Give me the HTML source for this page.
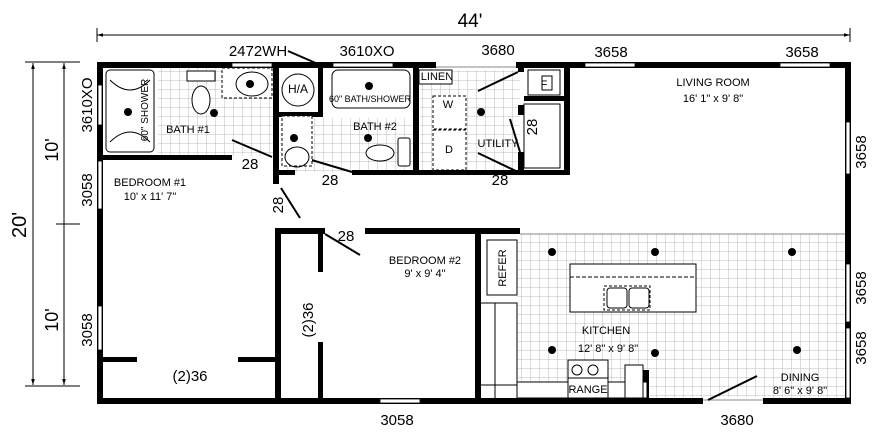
<!DOCTYPE html>
<html><head><style>
html,body{margin:0;padding:0;background:#fff;}
svg{display:block;font-family:"Liberation Sans Narrow","Liberation Sans",sans-serif;}
</style></head><body>
<svg width="880" height="436" viewBox="0 0 880 436" xmlns="http://www.w3.org/2000/svg">
<defs>
<pattern id="tile" width="9" height="9" patternUnits="userSpaceOnUse">
<path d="M9 0V9M0 9H9" stroke="#aaa" stroke-width="0.8" fill="none"/>
</pattern>
<marker id="ar" viewBox="0 0 10 10" refX="10" refY="5" markerWidth="6" markerHeight="6" orient="auto-start-reverse"><path d="M0 2L10 5L0 8z" fill="#000"/></marker>
</defs>
<rect x="158" y="68" width="117" height="88" fill="url(#tile)"/>
<rect x="280" y="118" width="135" height="54" fill="url(#tile)"/>
<rect x="420" y="68" width="100" height="104" fill="url(#tile)"/>
<rect x="517" y="234" width="329" height="164" fill="url(#tile)"/>
<line x1="520" y1="234" x2="845" y2="234" stroke="#888"/>
<!-- dimensions -->
<line x1="97" y1="35" x2="850" y2="35" stroke="#000" marker-start="url(#ar)" marker-end="url(#ar)"/>
<line x1="97" y1="28" x2="97" y2="42" stroke="#000"/><line x1="850" y1="28" x2="850" y2="42" stroke="#000"/>
<text x="470" y="27" font-size="19" text-anchor="middle">44'</text>
<line x1="33" y1="63" x2="33" y2="385" stroke="#000" marker-start="url(#ar)" marker-end="url(#ar)"/>
<line x1="64" y1="63" x2="64" y2="385" stroke="#000" marker-start="url(#ar)" marker-end="url(#ar)"/>
<line x1="25" y1="62" x2="80" y2="62" stroke="#000"/><line x1="25" y1="386" x2="80" y2="386" stroke="#000"/><line x1="56" y1="224" x2="80" y2="224" stroke="#000"/>
<text transform="translate(26,225) rotate(-90)" font-size="20" text-anchor="middle">20'</text>
<text transform="translate(58,150) rotate(-90)" font-size="18" text-anchor="middle">10'</text>
<text transform="translate(58,320) rotate(-90)" font-size="18" text-anchor="middle">10'</text>
<g font-size="15">
<text transform="translate(92,105) rotate(-90)" text-anchor="middle">3610XO</text>
<text transform="translate(92,190) rotate(-90)" text-anchor="middle">3058</text>
<text transform="translate(92,330) rotate(-90)" text-anchor="middle">3058</text>
<text transform="translate(866,152) rotate(-90)" text-anchor="middle">3658</text>
<text transform="translate(866,288) rotate(-90)" text-anchor="middle">3658</text>
<text transform="translate(866,348) rotate(-90)" text-anchor="middle">3658</text>
<text x="258" y="56" text-anchor="middle">2472WH</text>
<text x="367" y="56" text-anchor="middle">3610XO</text>
<text x="498" y="55" text-anchor="middle">3680</text>
<text x="611" y="57" text-anchor="middle">3658</text>
<text x="802" y="57" text-anchor="middle">3658</text>
<text x="397" y="425" text-anchor="middle">3058</text>
<text x="737" y="425" text-anchor="middle">3680</text>
<text x="250" y="169" text-anchor="middle">28</text>
<text x="330" y="185" text-anchor="middle">28</text>
<text x="500" y="185" text-anchor="middle">28</text>
<text x="346" y="241" text-anchor="middle">28</text>
<text transform="translate(283,205) rotate(-90)" text-anchor="middle">28</text>
<text transform="translate(537,127) rotate(-90)" text-anchor="middle">28</text>
<text x="190" y="381" text-anchor="middle">(2)36</text>
<text transform="translate(313,320) rotate(-90)" text-anchor="middle">(2)36</text>
</g>
<!-- walls -->
<g fill="#000">
<rect x="97" y="62" width="754" height="6"/>
<rect x="97" y="62" width="6" height="342"/>
<rect x="845" y="62" width="6" height="342"/>
<rect x="97" y="398" width="754" height="6"/>
<rect x="97" y="155" width="135" height="5"/>
<rect x="273" y="62" width="6" height="122"/>
<rect x="275" y="228" width="6" height="176"/>
<rect x="275" y="228" width="50" height="6"/>
<rect x="365" y="228" width="155" height="6"/>
<rect x="318" y="234" width="5" height="38"/>
<rect x="318" y="342" width="5" height="58"/>
<rect x="475" y="228" width="6" height="172"/>
<rect x="97" y="357" width="40" height="5"/>
<rect x="238" y="357" width="40" height="5"/>
<rect x="275" y="170" width="20" height="5"/>
<rect x="352" y="170" width="168" height="5"/>
<rect x="279" y="112" width="42" height="5"/>
<rect x="318" y="62" width="5" height="55"/>
<rect x="413" y="62" width="6" height="112"/>
<rect x="518" y="62" width="6" height="10"/>
<rect x="518" y="105" width="6" height="10"/>
<rect x="518" y="152" width="6" height="23"/>
<rect x="518" y="170" width="50" height="5"/>
<rect x="564" y="62" width="6" height="113"/>
<rect x="524" y="96" width="40" height="5"/>
<rect x="643" y="370" width="6" height="30"/>
</g>
<g fill="#fff" stroke="#000" stroke-width="0.8">
<rect x="98" y="85" width="4" height="40"/>
<rect x="98" y="161" width="4" height="48"/>
<rect x="98" y="306" width="4" height="44"/>
<rect x="846" y="122" width="4" height="52"/>
<rect x="846" y="264" width="4" height="58"/>
<rect x="846" y="328" width="4" height="70"/>
<rect x="585" y="63" width="50" height="4"/>
<rect x="780" y="63" width="50" height="4"/>
<rect x="333" y="63" width="60" height="4"/>
<rect x="380" y="399" width="40" height="4"/>
<rect x="232" y="63" width="40" height="4"/>
</g>
<rect x="436" y="60" width="80" height="10" fill="#fff"/><line x1="436" y1="67" x2="516" y2="67" stroke="#888"/>
<rect x="703" y="397" width="60" height="8" fill="#fff"/><line x1="703" y1="400" x2="763" y2="400" stroke="#888"/>
<g stroke="#000" stroke-width="2" fill="none">
<line x1="232" y1="140" x2="272" y2="157"/>
<line x1="288" y1="153" x2="352" y2="172"/>
<line x1="478" y1="153" x2="518" y2="172"/>
<line x1="478" y1="91" x2="518" y2="72"/>
<line x1="510" y1="119" x2="520" y2="152"/>
<line x1="281" y1="188" x2="300" y2="218"/>
<line x1="325" y1="234" x2="360" y2="255"/>
<line x1="708" y1="400" x2="757" y2="376"/>
<line x1="288" y1="51" x2="318" y2="64"/>
</g>
<g fill="none" stroke="#000" stroke-width="1">
<rect x="106" y="70" width="48" height="82" rx="4" fill="#fff"/>
<path d="M110 80 Q130 100 150 80 M110 142 Q130 122 150 142"/>
<rect x="187" y="71" width="28" height="10" fill="#fff"/>
<ellipse cx="201" cy="100" rx="9" ry="14" fill="#fff"/>
<rect x="222" y="68" width="50" height="30" stroke-dasharray="3 2" fill="#fff"/>
<ellipse cx="252" cy="84" rx="16" ry="12"/>
<circle cx="298" cy="90" r="16"/>
<rect x="332" y="70" width="78" height="38" rx="6" fill="#fff"/>
<rect x="282" y="116" width="30" height="50" stroke-dasharray="3 2" fill="#fff"/>
<ellipse cx="297" cy="157" rx="12" ry="10"/>
<ellipse cx="380" cy="153" rx="14" ry="8" fill="#fff"/>
<rect x="398" y="138" width="12" height="28" rx="2" fill="#fff"/>
<rect x="433" y="96" width="33" height="33" stroke-dasharray="3 2" fill="#fff"/>
<rect x="433" y="130" width="33" height="40" stroke-dasharray="3 2" fill="#fff"/>
<rect x="419" y="70" width="33" height="14" fill="#fff"/>
<rect x="528" y="70" width="32" height="25"/>
<rect x="542" y="76" width="10" height="14"/>
<rect x="524" y="104" width="36" height="64"/>
<rect x="487" y="240" width="30" height="55" fill="#fff"/>
<rect x="570" y="264" width="126" height="48" fill="#fff"/>
<line x1="570" y1="277" x2="696" y2="277" stroke-dasharray="4 2"/>
<rect x="604" y="286" width="46" height="24" stroke-dasharray="3 2"/>
<rect x="607" y="288" width="20" height="20" rx="3"/><rect x="629" y="288" width="20" height="20" rx="3"/>
<path d="M481 303 H517 V385 H481 M517 385 V398 M495 303 V398"/>
<rect x="517" y="382" width="130" height="16" fill="#fff"/>
<rect x="568" y="360" width="40" height="38" fill="#fff"/>
<line x1="568" y1="378" x2="608" y2="378"/>
<circle cx="577" cy="370" r="5"/><circle cx="593" cy="370" r="5"/>
<rect x="625" y="365" width="18" height="33" fill="#fff"/>
</g>
<g fill="#000">
<circle cx="128" cy="112" r="4"/><circle cx="214" cy="113" r="4"/><circle cx="250" cy="84" r="4"/>
<circle cx="369" cy="86" r="4"/><circle cx="294" cy="138" r="4"/><circle cx="368" cy="138" r="4"/>
<circle cx="481" cy="112" r="4"/>
<circle cx="552" cy="252" r="4"/><circle cx="655" cy="252" r="4"/><circle cx="792" cy="252" r="4"/>
<circle cx="552" cy="350" r="4"/><circle cx="655" cy="353" r="4"/><circle cx="797" cy="350" r="4"/>
</g>
<g font-size="11" text-anchor="middle">
<text x="298" y="93" font-size="12">H/A</text>
<text x="370" y="102" font-size="9">60" BATH/SHOWER</text>
<text transform="translate(148,110) rotate(-90)" font-size="10">60" SHOWER</text>
<text x="188" y="133">BATH #1</text>
<text x="375" y="130">BATH #2</text>
<text x="437" y="80">LINEN</text>
<text x="448" y="108">W</text>
<text x="449" y="153">D</text>
<text x="498" y="147">UTILITY</text>
<text x="544" y="88">F</text>
<text x="713" y="86">LIVING ROOM</text>
<text x="713" y="102">16' 1" x 9' 8"</text>
<text x="150" y="186">BEDROOM #1</text>
<text x="150" y="200">10' x 11' 7"</text>
<text x="425" y="264">BEDROOM #2</text>
<text x="425" y="277">9' x 9' 4"</text>
<text transform="translate(506,268) rotate(-90)">REFER</text>
<text x="606" y="334">KITCHEN</text>
<text x="608" y="352">12' 8" x 9' 8"</text>
<text x="588" y="393">RANGE</text>
<text x="800" y="381">DINING</text>
<text x="800" y="394">8' 6" x 9' 8"</text>
</g>
</svg>
</body></html>
